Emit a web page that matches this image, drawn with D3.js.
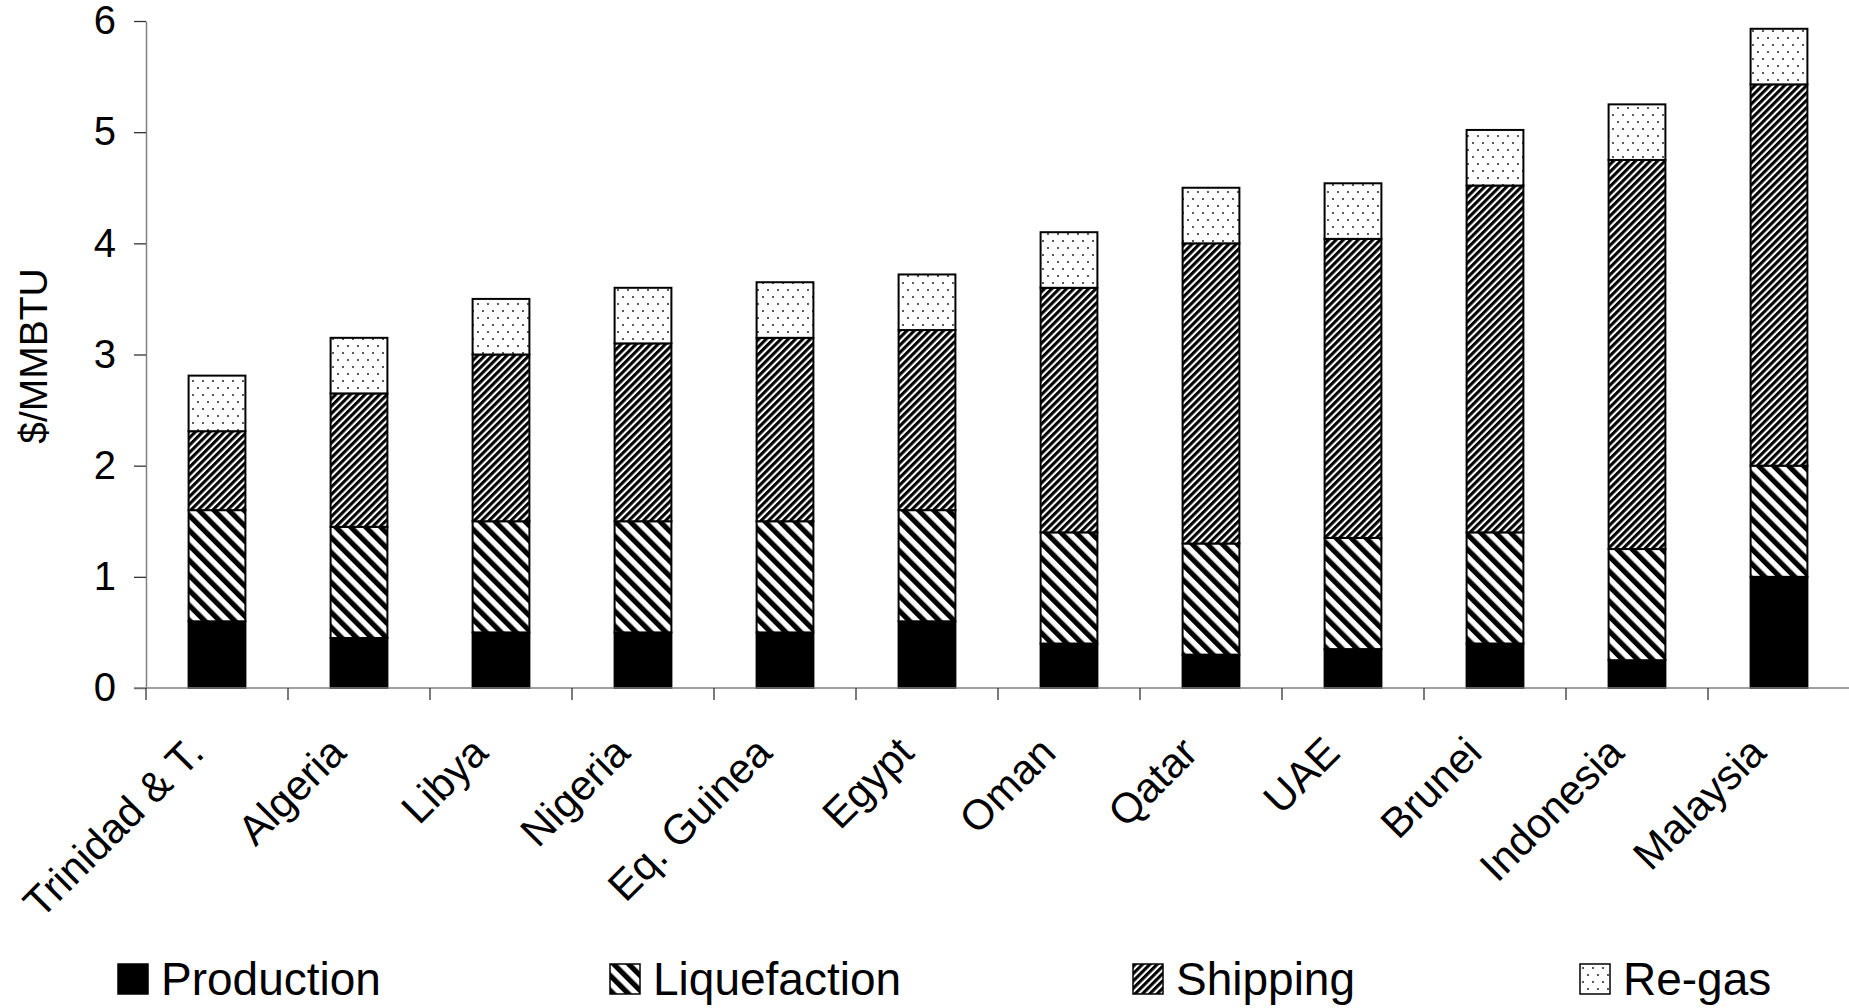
<!DOCTYPE html>
<html>
<head>
<meta charset="utf-8">
<script src="https://cdn.jsdelivr.net/npm/d3@7"></script>
<style>
  html, body { margin: 0; padding: 0; background: #fff; }
  svg { display: block; font-family: "Liberation Sans", Arial, sans-serif; }
</style>
</head>
<body>
<svg id="chart" width="1849" height="1008"></svg>
<script>
// LNG supply chain cost by exporting country, $/MMBTU
const categories = ["Trinidad & T.", "Algeria", "Libya", "Nigeria", "Eq. Guinea", "Egypt",
                    "Oman", "Qatar", "UAE", "Brunei", "Indonesia", "Malaysia"];
const production   = [0.6, 0.45, 0.5, 0.5, 0.5, 0.6, 0.4, 0.3, 0.35, 0.4, 0.25, 1.0];
const liquefaction = [1.0, 1.0, 1.0, 1.0, 1.0, 1.0, 1.0, 1.0, 1.0, 1.0, 1.0, 1.0];
const shipping     = [0.71, 1.2, 1.5, 1.6, 1.65, 1.62, 2.2, 2.7, 2.69, 3.12, 3.5, 3.43];
const regas        = [0.5, 0.5, 0.5, 0.5, 0.5, 0.5, 0.5, 0.5, 0.5, 0.5, 0.5, 0.5];
const seriesNames  = ["Production", "Liquefaction", "Shipping", "Re-gas"];
const yTicks       = [0, 1, 2, 3, 4, 5, 6];
const yLabel       = "$/MMBTU";

const rows = categories.map((c, i) => ({
  country: c,
  Production: production[i],
  Liquefaction: liquefaction[i],
  Shipping: shipping[i],
  "Re-gas": regas[i]
}));

const svg = d3.select("#chart");
const defs = svg.append("defs");

// Hatch fills: solid, wide back-diagonal, fine forward-diagonal, dotted
function stripes(id, period, ink, angle) {
  const p = defs.append("pattern")
    .attr("id", id)
    .attr("patternUnits", "userSpaceOnUse")
    .attr("width", period).attr("height", period)
    .attr("patternTransform", `rotate(${angle})`);
  p.append("rect").attr("width", period).attr("height", period).attr("fill", "#fff");
  p.append("rect").attr("width", ink).attr("height", period).attr("fill", "#000");
}
stripes("pat-liq", 10.6, 5.2, -45);
stripes("pat-ship", 5.2, 3.1, 45);

const dots = defs.append("pattern")
  .attr("id", "pat-regas")
  .attr("patternUnits", "userSpaceOnUse")
  .attr("width", 10).attr("height", 14);
dots.append("rect").attr("width", 10).attr("height", 14).attr("fill", "#fff");
dots.append("circle").attr("cx", 3).attr("cy", 3).attr("r", 1.1).attr("fill", "#333");
dots.append("circle").attr("cx", 8).attr("cy", 10).attr("r", 1.1).attr("fill", "#333");

const fills = {
  "Production": "#000",
  "Liquefaction": "url(#pat-liq)",
  "Shipping": "url(#pat-ship)",
  "Re-gas": "url(#pat-regas)"
};

const x = d3.scaleBand()
  .domain(categories)
  .range([146, 1850])
  .paddingInner(0.6)
  .paddingOuter(0.3);

const y = d3.scaleLinear()
  .domain([0, 6])
  .range([688, 21]);

const stacked = d3.stack().keys(seriesNames)(rows);

// Bars
const layers = svg.append("g").selectAll("g")
  .data(stacked)
  .join("g")
  .attr("fill", d => fills[d.key]);

layers.selectAll("rect")
  .data(d => d)
  .join("rect")
  .attr("x", d => x(d.data.country))
  .attr("width", x.bandwidth())
  .attr("y", d => y(d[1]))
  .attr("height", d => y(d[0]) - y(d[1]))
  .attr("stroke", "#000")
  .attr("stroke-width", 2);

// Y axis
const yAxis = svg.append("g")
  .attr("transform", `translate(${x.range()[0]},0)`)
  .call(d3.axisLeft(y).tickValues(yTicks).tickFormat(d3.format("d")).tickSize(12).tickSizeOuter(0).tickPadding(18));
yAxis.select(".domain").attr("stroke", "#808080").attr("stroke-width", 1.5);
yAxis.selectAll(".tick line").attr("stroke", "#333").attr("stroke-width", 1.3);
yAxis.selectAll(".tick text")
  .attr("font-size", 40)
  .attr("font-family", "Liberation Sans, Arial, sans-serif")
  .attr("fill", "#000");

// X axis: boundary ticks between categories
const step = x.step();
const first = x(categories[0]) - (step - x.bandwidth()) / 2;
const boundaries = d3.range(categories.length + 1).map(i => first + i * step);
const xAxis = svg.append("g");
xAxis.append("line")
  .attr("x1", first - 12).attr("x2", 1849)
  .attr("y1", y(0)).attr("y2", y(0))
  .attr("stroke", "#808080").attr("stroke-width", 1.5);
xAxis.selectAll("line.tick")
  .data(boundaries)
  .join("line")
  .attr("class", "tick")
  .attr("x1", d => d).attr("x2", d => d)
  .attr("y1", y(0)).attr("y2", y(0) + 12)
  .attr("stroke", "#333").attr("stroke-width", 1.3);

xAxis.selectAll("text")
  .data(categories)
  .join("text")
  .attr("transform", d => `translate(${x(d) + x.bandwidth() / 2 - 11},${y(0) + 67}) rotate(-45)`)
  .attr("text-anchor", "end")
  .attr("font-size", 42)
  .attr("fill", "#000")
  .text(d => d);

// Y axis title
svg.append("text")
  .attr("transform", `translate(47,356) rotate(-90)`)
  .attr("text-anchor", "middle")
  .attr("font-size", 39)
  .attr("fill", "#000")
  .text(yLabel);

// Legend
const legendX = [118, 610, 1133, 1580];
const legend = svg.append("g").selectAll("g")
  .data(seriesNames)
  .join("g")
  .attr("transform", (d, i) => `translate(${legendX[i]},979)`);
legend.append("rect")
  .attr("x", 0).attr("y", -15)
  .attr("width", 30).attr("height", 30)
  .attr("fill", d => fills[d])
  .attr("stroke", "#000")
  .attr("stroke-width", 1.5);
legend.append("text")
  .attr("x", 43)
  .attr("y", 16)
  .attr("font-size", 46)
  .attr("fill", "#000")
  .text(d => d);
</script>
</body>
</html>
